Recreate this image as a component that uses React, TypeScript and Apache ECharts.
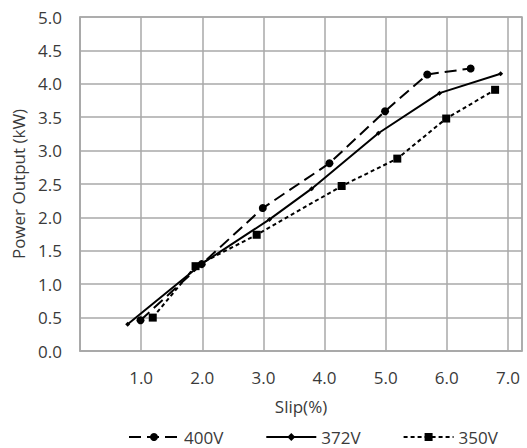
import React, { useEffect, useRef } from "react";
import * as echarts from "echarts";

const seriesNames = ["400V", "372V", "350V"];
const slip400 = [0.99, 1.99, 2.99, 4.08, 4.99, 5.68, 6.39];
const power400 = [0.46, 1.30, 2.14, 2.81, 3.59, 4.14, 4.23];
const slip372 = [0.78, 2.0, 3.1, 3.79, 4.88, 5.88, 6.88];
const power372 = [0.40, 1.31, 1.97, 2.43, 3.26, 3.86, 4.15];
const slip350 = [1.19, 1.89, 2.89, 4.28, 5.19, 5.99, 6.79];
const power350 = [0.50, 1.27, 1.74, 2.47, 2.88, 3.48, 3.91];

const zip = (xs: number[], ys: number[]) => xs.map((x, i) => [x, ys[i]]);

const FONT = "'Open Sans', 'Noto Sans', sans-serif";
const TEXT = "#3a3a3a";
const GRIDC = "#a8a8a8";

export default function App() {
  const ref = useRef<HTMLDivElement>(null);
  useEffect(() => {
    if (!ref.current) return;
    const chart = echarts.init(ref.current, null, { renderer: "svg" });
    chart.setOption({
      animation: false,
      backgroundColor: "#ffffff",
      textStyle: { fontFamily: FONT },
      grid: {
        left: 80,
        right: 5,
        top: 17,
        bottom: 97,
        show: true,
        borderColor: GRIDC,
        borderWidth: 1.5,
        outerBoundsMode: "none",
      },
      legend: {
        left: 128,
        top: 427,
        padding: 0,
        itemWidth: 50,
        itemHeight: 10,
        itemGap: 42,
        textStyle: { fontSize: 17, lineHeight: 20, color: TEXT, fontFamily: FONT },
        data: seriesNames,
      },
      xAxis: {
        type: "value",
        min: 0,
        max: 7.23,
        interval: 1,
        name: "Slip(%)",
        nameLocation: "middle",
        nameGap: 47,
        nameTextStyle: { fontSize: 17, color: TEXT, fontFamily: FONT },
        axisLine: { show: true, lineStyle: { color: GRIDC, width: 1.5 } },
        axisTick: { show: false },
        axisLabel: {
          fontSize: 17,
          color: TEXT,
          fontFamily: FONT,
          margin: 18,
          showMaxLabel: false,
          formatter: (v: number) =>
            Math.abs(v - Math.round(v)) < 1e-6 && v > 0 ? v.toFixed(1) : "",
        },
        splitLine: { show: true, lineStyle: { color: GRIDC, width: 1.5 } },
      },
      yAxis: {
        type: "value",
        min: 0,
        max: 5,
        interval: 0.5,
        name: "Power Output (kW)",
        nameLocation: "middle",
        nameGap: 51,
        nameTextStyle: { fontSize: 17, color: TEXT, fontFamily: FONT },
        axisLine: { show: true, lineStyle: { color: GRIDC, width: 1.5 } },
        axisTick: { show: false },
        axisLabel: {
          fontSize: 17,
          color: TEXT,
          fontFamily: FONT,
          margin: 18,
          formatter: (v: number) => v.toFixed(1),
        },
        splitLine: { show: true, lineStyle: { color: GRIDC, width: 1.5 } },
      },
      series: [
        {
          name: seriesNames[0],
          type: "line",
          data: zip(slip400, power400),
          symbol: "circle",
          symbolSize: 8,
          color: "#000",
          itemStyle: { color: "#000" },
          lineStyle: { color: "#000", width: 2, type: [12, 6] },
          z: 3,
        },
        {
          name: seriesNames[1],
          type: "line",
          data: zip(slip372, power372),
          symbol: "diamond",
          symbolSize: 5,
          color: "#000",
          itemStyle: { color: "#000" },
          lineStyle: { color: "#000", width: 2, type: "solid" },
          z: 2,
        },
        {
          name: seriesNames[2],
          type: "line",
          data: zip(slip350, power350),
          symbol: "rect",
          symbolSize: 8,
          color: "#000",
          itemStyle: { color: "#000" },
          lineStyle: { color: "#000", width: 2, type: [4, 3] },
          z: 2,
        },
      ],
    });
    return () => chart.dispose();
  }, []);
  return (
    <div
      ref={ref}
      style={{ position: "fixed", left: 0, top: 0, width: 527, height: 448, background: "#fff" }}
    />
  );
}
